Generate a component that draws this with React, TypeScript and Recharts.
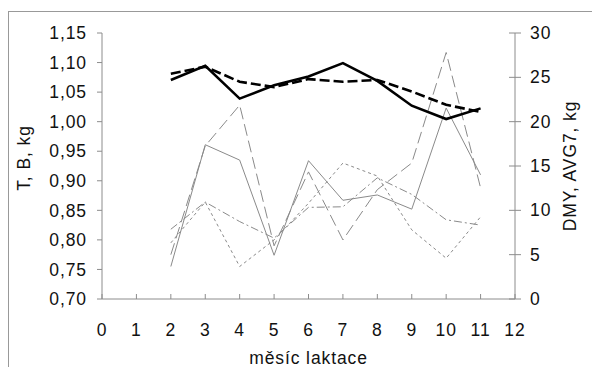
import { CartesianGrid, Label, Line, LineChart, XAxis, YAxis } from "recharts"

const months = [2, 3, 4, 5, 6, 7, 8, 9, 10, 11]
const monthTicks = [0, 1, 2, 3, 4, 5, 6, 7, 8, 9, 10, 11, 12]
const leftTicks = [0.7, 0.75, 0.8, 0.85, 0.9, 0.95, 1.0, 1.05, 1.1, 1.15]
const rightTicks = [0, 5, 10, 15, 20, 25, 30]

// right axis (kg)
const dmy = [24.7, 26.3, 22.6, 24.1, 25.1, 26.6, 24.6, 21.8, 20.3, 21.5]
const avg7 = [25.4, 26.2, 24.5, 23.9, 24.8, 24.5, 24.7, 23.4, 21.9, 21.1]

// left axis (kg)
const t1 = [0.755, 0.961, 0.935, 0.774, 0.934, 0.867, 0.876, 0.852, 1.023, 0.91]
const t2 = [0.775, 0.959, 1.028, 0.79, 0.915, 0.8, 0.885, 0.93, 1.117, 0.888]
const b1 = [0.818, 0.864, 0.831, 0.803, 0.855, 0.856, 0.905, 0.877, 0.834, 0.825]
const b2 = [0.795, 0.864, 0.755, 0.8, 0.862, 0.93, 0.908, 0.817, 0.769, 0.839]

const data = months.map((m, i) => ({
  month: m,
  dmy: dmy[i],
  avg7: avg7[i],
  t1: t1[i],
  t2: t2[i],
  b1: b1[i],
  b2: b2[i],
}))

const FONT = "'Liberation Sans', Arial, sans-serif"
const AXIS = "#8c8c8c"
const GRAY = "#8a8a8a"
const textStyle = { fontFamily: FONT, fontSize: 17.5, letterSpacing: 0.9, fill: "#111" }

const XTick = (props: any) => {
  const { x, y, payload } = props
  return (
    <g>
      <line x1={x} x2={x} y1={y - 5} y2={y} stroke={AXIS} />
      <text x={x} y={y + 31} textAnchor="middle" dominantBaseline="central" style={textStyle}>
        {payload.value}
      </text>
    </g>
  )
}

const RightTick = (props: any) => {
  const { x, y, payload } = props
  return (
    <g>
      <line x1={x - 6} x2={x + 6} y1={y} y2={y} stroke={AXIS} />
      <text x={x + 15} y={y} textAnchor="start" dominantBaseline="central" style={textStyle}>
        {payload.value}
      </text>
    </g>
  )
}

export default function App() {
  return (
    <div style={{ position: "fixed", left: 0, top: 0, width: 592, height: 367, overflow: "hidden", background: "#fff" }}>
      <div
        style={{
          position: "absolute",
          left: 8,
          top: 11,
          width: 700,
          height: 500,
          borderTop: "1px solid #999",
          borderLeft: "1px solid #999",
        }}
      />
      <div style={{ position: "absolute", left: 0, top: 0 }}>
        <LineChart width={592} height={367} data={data} margin={{ top: 33, right: 0, bottom: 0, left: 0 }}>
          <CartesianGrid stroke="none" />
          <XAxis
            dataKey="month"
            type="number"
            domain={[0, 12]}
            ticks={monthTicks}
            interval={0}
            height={68}
            stroke={AXIS}
            tickLine={false}
            tickSize={0}
            tickMargin={0}
            tick={<XTick />}
          >
            <Label
              content={({ viewBox }: any) => (
                <text
                  x={viewBox.x + viewBox.width / 2}
                  y={viewBox.y + 59}
                  textAnchor="middle"
                  dominantBaseline="central"
                  style={textStyle}
                >
                  měsíc laktace
                </text>
              )}
            />
          </XAxis>
          <YAxis
            yAxisId="left"
            orientation="left"
            domain={[0.7, 1.15]}
            ticks={leftTicks}
            interval={0}
            width={102}
            stroke={AXIS}
            tickSize={5}
            tickMargin={10}
            tickFormatter={(v: number) => v.toFixed(2).replace(".", ",")}
            tick={{ ...textStyle }}
          >
            <Label
              content={({ viewBox }: any) => {
                const cx = viewBox.x + 24
                const cy = viewBox.y + viewBox.height / 2 - 8
                return (
                  <text
                    x={cx}
                    y={cy}
                    transform={`rotate(-90, ${cx}, ${cy})`}
                    textAnchor="middle"
                    dominantBaseline="central"
                    style={textStyle}
                  >
                    T, B, kg
                  </text>
                )
              }}
            />
          </YAxis>
          <YAxis
            yAxisId="right"
            orientation="right"
            domain={[0, 30]}
            ticks={rightTicks}
            interval={0}
            width={77}
            stroke={AXIS}
            tickLine={false}
            tickSize={0}
            tickMargin={0}
            tick={<RightTick />}
          >
            <Label
              content={({ viewBox }: any) => {
                const cx = viewBox.x + 55
                const cy = viewBox.y + viewBox.height / 2
                return (
                  <text
                    x={cx}
                    y={cy}
                    transform={`rotate(-90, ${cx}, ${cy})`}
                    textAnchor="middle"
                    dominantBaseline="central"
                    style={textStyle}
                  >
                    DMY, AVG7, kg
                  </text>
                )
              }}
            />
          </YAxis>

          <Line yAxisId="left" dataKey="t1" stroke={GRAY} strokeWidth={1} dot={false} isAnimationActive={false} />
          <Line yAxisId="left" dataKey="t2" stroke={GRAY} strokeWidth={1} strokeDasharray="12 5" dot={false} isAnimationActive={false} />
          <Line yAxisId="left" dataKey="b1" stroke={GRAY} strokeWidth={1} strokeDasharray="8 3 2 3" dot={false} isAnimationActive={false} />
          <Line yAxisId="left" dataKey="b2" stroke={GRAY} strokeWidth={1} strokeDasharray="3 3" dot={false} isAnimationActive={false} />
          <Line yAxisId="right" dataKey="avg7" stroke="#000" strokeWidth={2.6} strokeDasharray="10 4" dot={false} isAnimationActive={false} />
          <Line yAxisId="right" dataKey="dmy" stroke="#000" strokeWidth={2.6} dot={false} isAnimationActive={false} />
        </LineChart>
      </div>
    </div>
  )
}
